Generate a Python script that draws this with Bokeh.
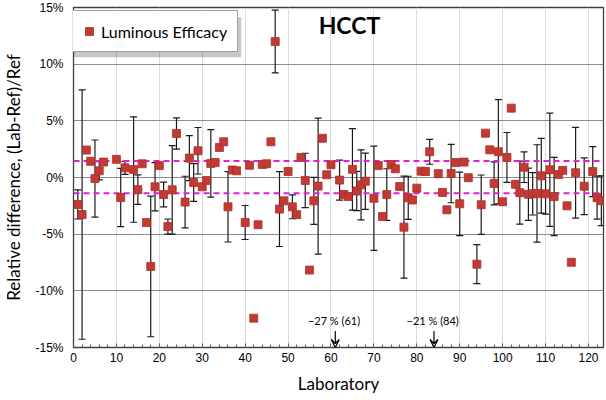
from bokeh.plotting import figure
from bokeh.models import (ColumnDataSource, Whisker, TeeHead, Span, Label, Arrow,
                          VeeHead, Legend, LegendItem, SingleIntervalTicker,
                          FixedTicker, PrintfTickFormatter, Range1d, BoxAnnotation)
from bokeh.embed import file_html
from bokeh.resources import INLINE

# Laboratory number, relative difference (%) and expanded uncertainty (%, None = not reported)
labs = [1, 2, 3, 4, 5, 6, 7, 10, 11, 12, 14, 15, 16, 17, 18, 19, 20, 21, 22, 23,
        24, 26, 27, 28, 29, 30, 31, 32, 33, 34, 35, 36, 37, 38, 40, 41, 42, 43, 44, 45,
        46, 47, 48, 49, 50, 51, 52, 53, 54, 55, 56, 57, 58, 59, 60, 62, 63, 64, 65, 66,
        67, 68, 70, 71, 72, 73, 74, 75, 76, 77, 78, 79, 80, 81, 82, 83, 85, 86, 87, 88,
        89, 90, 91, 92, 94, 95, 96, 97, 98, 99, 100, 101, 102, 103, 104, 105, 106, 107, 108, 109,
        110, 111, 112, 113, 114, 115, 116, 117, 119, 121, 122, 123]
rel_diff = [-2.38, -3.27, 2.42, 1.43, -0.09, 0.59, 1.36, 1.60, -1.77, 0.85, 0.70, -1.07, 1.21, -3.98, -7.85, -0.82, 1.05, -1.50, -4.33, -1.09,
            3.88, -2.17, 1.71, -0.44, 2.36, -0.82, -0.26, 1.24, 1.32, 2.65, 3.15, -2.59, 0.66, 0.59, -3.97, 1.08, -12.41, -4.17, 1.15, 1.21,
            3.15, 12.00, -2.79, -2.06, 0.53, -2.59, -3.28, 1.77, -0.26, -8.17, -2.06, -0.76, 3.46, 0.24, 1.12, -0.23, -1.50, -1.68, 0.72, -1.19,
            -0.65, -0.33, -1.83, 1.05, -3.45, -1.51, 1.15, 0.77, -0.80, -4.38, -1.79, -1.98, -0.94, 0.56, 0.53, 2.27, 0.34, -1.32, -2.85, 0.35,
            1.32, -2.32, 1.36, -0.02, -7.65, -2.40, 3.91, 2.44, -0.52, 2.27, -2.14, 1.77, 6.12, -0.60, -1.34, 0.91, -1.48, -1.44, -1.41, 0.15,
            -1.44, 0.68, -1.68, 0.26, 0.63, -2.50, -7.48, 0.42, -0.77, 0.52, -1.78, -2.05]
uncert = [1.28, 11.0, None, None, 3.4, 0.8, None, None, 2.57, 0.58, 4.65, 1.3, None, None, 6.2, 2.13, None, 1.1, 0.67, 3.9,
          1.38, 2.28, 1.98, 1.67, 2.05, None, None, 2.98, None, None, None, 3.1, None, None, 1.5, None, None, None, None, None,
          None, 2.77, 3.3, None, None, 1.05, None, None, 2.4, None, 2.07, 6.0, None, None, None, 1.77, None, None, 3.6, 1.73,
          3.09, 2.48, 4.6, None, None, 2.28, None, None, None, 4.5, 1.9, None, None, None, None, 1.1, None, None, None, 2.58,
          None, 2.8, None, None, 1.72, 2.62, None, None, 1.9, 4.6, None, 2.2, None, None, 2.78, 1.35, 2.3, 1.87, 4.3, 3.3,
          1.8, 5.0, 3.45, None, None, None, None, 4.0, 2.5, 2.2, 1.9, 2.2]

# Consensus band (%)
band_upper = 1.45
band_lower = -1.4

# Off-scale results shown with arrows
offscale_labs = [61, 84]
offscale_text = ["\u221227 % (61)", "\u221221 % (84)"]

y_ticks = [-15, -10, -5, 0, 5, 10, 15]

p = figure(width=606, height=400, output_backend="svg", toolbar_location=None,
           x_range=Range1d(0, 123.5), y_range=Range1d(-15, 15),
           min_border_left=72, min_border_right=3, min_border_top=7, min_border_bottom=53)
p.background_fill_color = "white"
p.border_fill_color = "white"
p.outline_line_color = "#404040"
p.outline_line_width = 1.3

# Axes
p.xaxis.ticker = SingleIntervalTicker(interval=10, num_minor_ticks=5)
p.xaxis.axis_label = "Laboratory"
p.xaxis.axis_label_text_font = "Lato"
p.xaxis.axis_label_text_font_size = "17px"
p.xaxis.axis_label_text_font_style = "normal"
p.xaxis.axis_label_text_color = "#000000"
p.xaxis.axis_label_standoff = 8
p.xaxis.major_label_text_font = "Liberation Sans"
p.xaxis.major_label_text_font_size = "12px"
p.xaxis.major_label_text_color = "#000000"
p.xaxis.major_label_standoff = 5
p.xaxis.major_tick_in = 4
p.xaxis.major_tick_out = 0
p.xaxis.minor_tick_in = 3
p.xaxis.minor_tick_out = 0
p.xaxis.axis_line_color = "#404040"
p.xaxis.major_tick_line_color = "#606060"
p.xaxis.minor_tick_line_color = "#606060"

p.yaxis.ticker = FixedTicker(ticks=y_ticks)
p.yaxis.formatter = PrintfTickFormatter(format="%d%%")
p.yaxis.axis_label = "Relative difference, (Lab-Ref)/Ref"
p.yaxis.axis_label_text_font = "Lato"
p.yaxis.axis_label_text_font_size = "17px"
p.yaxis.axis_label_text_font_style = "normal"
p.yaxis.axis_label_text_color = "#000000"
p.yaxis.axis_label_standoff = 8
p.yaxis.major_label_text_font = "Liberation Sans"
p.yaxis.major_label_text_font_size = "12px"
p.yaxis.major_label_text_color = "#000000"
p.yaxis.major_label_standoff = 10
p.yaxis.major_tick_in = 0
p.yaxis.major_tick_out = 0
p.yaxis.minor_tick_line_color = None
p.yaxis.axis_line_color = "#404040"

# Grid
p.xgrid.ticker = SingleIntervalTicker(interval=10)
p.xgrid.grid_line_color = "#dcdcdc"
p.xgrid.grid_line_width = 1
p.ygrid.ticker = FixedTicker(ticks=y_ticks)
p.ygrid.grid_line_color = "#8c8c8c"
p.ygrid.grid_line_width = 1

# Error bars
eb = [(l, v, u) for l, v, u in zip(labs, rel_diff, uncert) if u is not None]
err_src = ColumnDataSource(dict(
    x=[e[0] for e in eb],
    upper=[e[1] + e[2] for e in eb],
    lower=[e[1] - e[2] for e in eb],
))
whisk = Whisker(source=err_src, base="x", upper="upper", lower="lower", dimension="height",
                line_color="#1a1a1a", line_width=1.2, level="underlay",
                upper_head=TeeHead(size=7, line_color="#1a1a1a", line_width=1.2),
                lower_head=TeeHead(size=7, line_color="#1a1a1a", line_width=1.2))
p.add_layout(whisk)

# Consensus band limits
for loc in (band_upper, band_lower):
    p.add_layout(Span(location=loc, dimension="width", line_color="#e020d8",
                      line_width=2, line_dash="6 4", level="underlay"))

# Results
src = ColumnDataSource(dict(x=labs, y=rel_diff))
pts = p.scatter("x", "y", source=src, marker="square", size=8,
                fill_color="#c33a34", line_color="#a8302b", line_width=0.8)

# Off-scale markers
for lab, txt in zip(offscale_labs, offscale_text):
    p.add_layout(Arrow(x_start=lab, y_start=-13.55, x_end=lab, y_end=-15.0,
                       line_color="#000000", line_width=1.2,
                       end=VeeHead(size=8, line_color="#000000", line_width=1.2, fill_color=None)))
    p.add_layout(Label(x=lab - 0.3, y=-12.65, text=txt, text_align="center",
                       text_baseline="middle", text_font="Lato", text_font_size="11px",
                       text_color="#000000"))

# Chart heading
p.add_layout(Label(x=64.3, y=13.5, text="HCCT", text_align="center", text_baseline="middle",
                   text_font="Lato", text_font_size="23px", text_font_style="bold",
                   text_color="#000000"))

# Soft drop shadow behind the legend box
p.add_layout(BoxAnnotation(left=-0.4, right=39.1, top=14.15, bottom=10.6,
                           fill_color="#000000", fill_alpha=0.22, line_color=None))

legend = Legend(items=[LegendItem(label="Luminous Efficacy", renderers=[pts])],
                location=(-5, 295), orientation="vertical",
                label_text_font="Lato", label_text_font_size="16px", label_text_color="#000000",
                label_standoff=2, glyph_width=20, glyph_height=20, label_height=20,
                padding=10, margin=0, border_line_color="#404040", border_line_width=1.2,
                background_fill_color="white", background_fill_alpha=1.0)
p.add_layout(legend)

open("out.html", "w").write(file_html(p, INLINE))
